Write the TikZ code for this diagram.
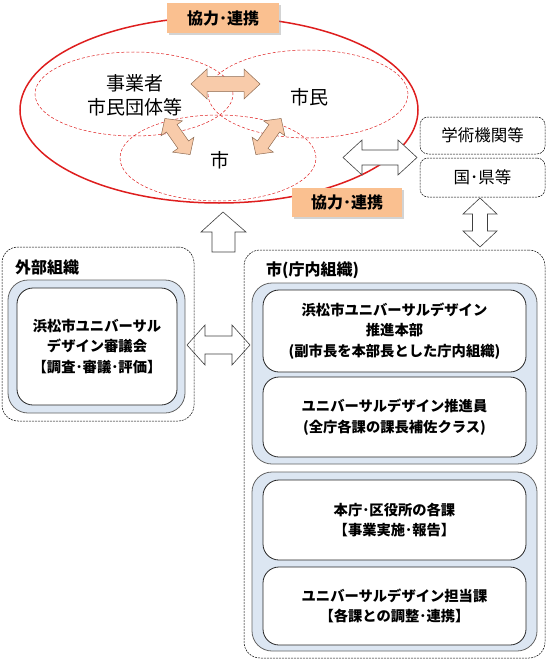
\documentclass[tikz,border=0pt]{standalone}
\usepackage{fontspec}
\setmainfont{Noto Sans CJK JP}
\usetikzlibrary{shadows}
\definecolor{ered}{RGB}{222,30,30}
\definecolor{peach}{RGB}{250,192,144}
\definecolor{parrow}{RGB}{248,203,170}
\definecolor{parrowd}{RGB}{140,105,80}
\definecolor{gblue}{RGB}{220,230,242}
\definecolor{ggray}{RGB}{100,100,100}
\newcommand\dblarrow[8]{%
  \begin{scope}[shift={(#1,#2)},rotate=#3]
  \path[#8] ({-#4/2},0) -- ({-#4/2+#7},{#5/2}) -- ({-#4/2+#7},{#6/2}) -- ({#4/2-#7},{#6/2}) -- ({#4/2-#7},{#5/2}) -- ({#4/2},0) -- ({#4/2-#7},{-#5/2}) -- ({#4/2-#7},{-#6/2}) -- ({-#4/2+#7},{-#6/2}) -- ({-#4/2+#7},{-#5/2}) -- cycle;
  \end{scope}}
\tikzset{
  outerbox/.style={draw=black, dash pattern=on 2pt off 1pt, line width=0.5pt, rounded corners=16pt, inner sep=0pt},
  grpbox/.style={draw=ggray, fill=gblue, line width=0.8pt, rounded corners=20pt, inner sep=0pt},
  inbox/.style={draw=black!85, fill=white, line width=0.8pt, rounded corners=16pt, inner sep=0pt, align=center, font=\bfseries\fontsize{14.3}{20.5}\selectfont},
  extbox/.style={draw=black, dash pattern=on 2pt off 1pt, line width=0.5pt, rounded corners=8pt, inner sep=0pt, font=\fontsize{16.5}{18}\selectfont},
  lbl/.style={fill=peach, inner sep=0pt, font=\bfseries\fontsize{16}{18}\selectfont, drop shadow={opacity=0.35, shadow xshift=2pt, shadow yshift=-2pt}},
  ttl/.style={font=\bfseries\fontsize{16}{18}\selectfont, inner sep=0pt, anchor=west},
  elltxt/.style={font=\fontsize{19}{24}\selectfont, align=center, inner sep=0pt},
  warrow/.style={draw=black!75, fill=white, line width=0.6pt, line join=miter},
  parw/.style={draw=parrowd, fill=parrow, line width=0.5pt, line join=miter},
  sube/.style={draw=ered, densely dashed, line width=0.5pt}
}
\begin{document}
\begin{tikzpicture}[x=1pt,y=-1pt]
\useasboundingbox (0,0) rectangle (547,661);
% ellipses
\draw[ered, line width=1.5pt] (219,110) ellipse [x radius=199pt, y radius=93pt];
\draw[sube] (134,94) ellipse [x radius=99pt, y radius=42pt];
\draw[sube] (308,94) ellipse [x radius=100pt, y radius=44pt];
\draw[sube] (218,158) ellipse [x radius=98pt, y radius=43pt];
\node[elltxt] (jig) at (135,95) {事業者\\市民団体等};
\node[elltxt] (shimin) at (309,97) {市民};
\node[elltxt] (shi) at (220,160) {市};
% peach arrows
\dblarrow{225.5}{84}{0}{69}{30}{15}{16}{parw}
\dblarrow{177.5}{136.5}{-55}{44}{26}{13}{12}{parw}
\dblarrow{268.5}{136.5}{55}{44}{26}{13}{12}{parw}
% labels
\node[lbl, minimum width=112pt, minimum height=30pt] (k1) at (223,18) {協力･連携};
\node[lbl, minimum width=110pt, minimum height=29pt] (k2) at (347,202.5) {協力･連携};
% right boxes
\node[extbox, minimum width=125pt, minimum height=37pt] (gak) at (482.5,135.5) {学術機関等};
\node[extbox, minimum width=125pt, minimum height=39pt] (kuni) at (482.5,177.5) {国･県等};
% white arrows
\dblarrow{380}{157.5}{0}{74}{35}{15}{19}{warrow}
\dblarrow{480}{222.5}{90}{49}{34}{15}{16}{warrow}
\dblarrow{218.5}{345}{0}{63}{40}{18}{18}{warrow}
\draw[warrow] (223,212) -- (246,232) -- (235,232) -- (235,252) -- (212,252) -- (212,232) -- (201,232) -- cycle;
% left organisation
\node[outerbox, minimum width=192pt, minimum height=174pt] (outL) at (98,334) {};
\node[ttl] (tL) at (15,267) {外部組織};
\node[grpbox, minimum width=177pt, minimum height=133pt] (grpL) at (96.5,346.5) {};
\node[inbox, minimum width=160pt, minimum height=117pt] (boxL) at (97,346.5) {浜松市ユニバーサル\\デザイン審議会\\【調査･審議･評価】};
% right organisation
\node[outerbox, minimum width=301pt, minimum height=408pt] (outR) at (394.5,454) {};
\node[ttl] (tR) at (266,270) {市(庁内組織)};
\node[grpbox, minimum width=285pt, minimum height=181pt] (grpR1) at (394.5,373.5) {};
\node[inbox, minimum width=263pt, minimum height=82pt] (b1) at (394.5,331) {浜松市ユニバーサルデザイン\\推進本部\\(副市長を本部長とした庁内組織)};
\node[inbox, minimum width=263pt, minimum height=80pt] (b2) at (394.5,417) {ユニバーサルデザイン推進員\\(全庁各課の課長補佐クラス)};
\node[grpbox, minimum width=285pt, minimum height=179pt] (grpR2) at (394.5,561.5) {};
\node[inbox, minimum width=263pt, minimum height=80pt] (b3) at (394.5,520) {本庁･区役所の各課\\【事業実施･報告】};
\node[inbox, minimum width=263pt, minimum height=78pt] (b4) at (394.5,606) {ユニバーサルデザイン担当課\\【各課との調整･連携】};
\end{tikzpicture}
\end{document}
